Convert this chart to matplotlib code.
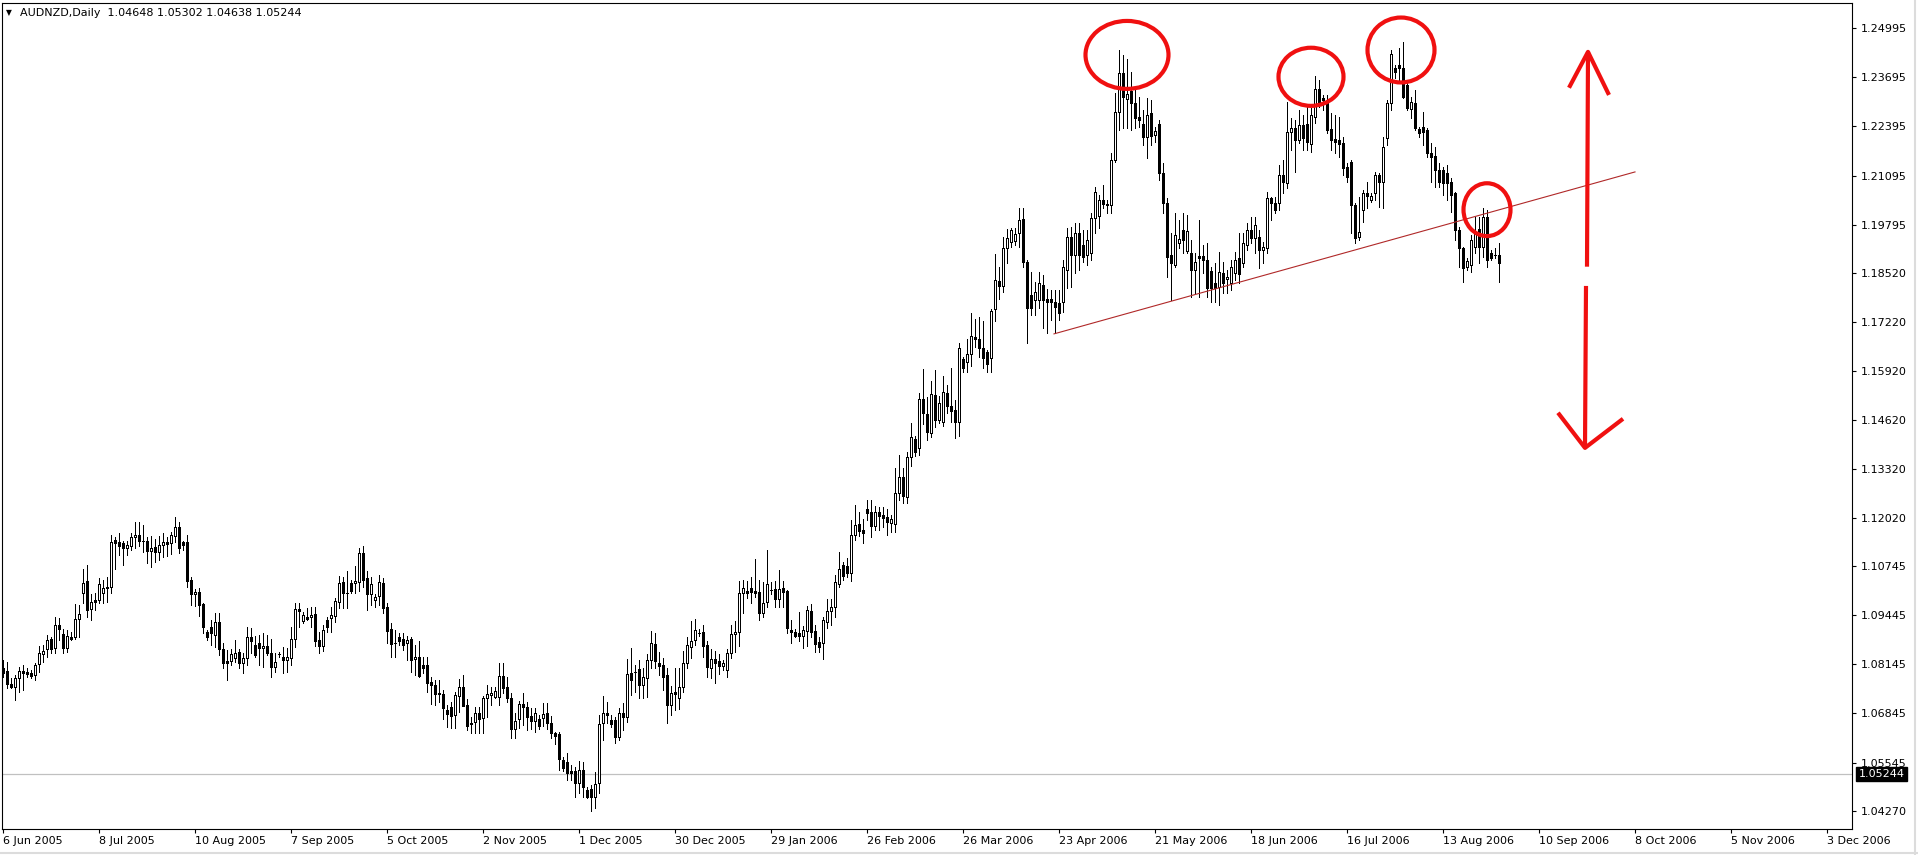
import numpy as np
import matplotlib
matplotlib.use("Agg")
import matplotlib.pyplot as plt
from matplotlib.patches import Ellipse
from matplotlib.transforms import blended_transform_factory

# AUDNZD daily candles, prices in 1/10000 units
opens = [
    10805, 10797, 10762, 10754, 10778, 10797, 10794, 10792, 10786, 10816,
    10842, 10855, 10882, 10858, 10919, 10895, 10858, 10887, 10887, 10935,
    11004, 11035, 10961, 10985, 10985, 11004, 11020, 11020, 11144, 11139,
    11136, 11123, 11128, 11152, 11157, 11141, 11141, 11115, 11125, 11112,
    11131, 11139, 11136, 11155, 11178, 11139, 11139, 11038, 11000, 11006,
    10974, 10900, 10914, 10892, 10927, 10855, 10823, 10823, 10832, 10847,
    10818, 10832, 10887, 10866, 10871, 10858, 10863, 10845, 10808, 10842,
    10834, 10826, 10832, 10882, 10961, 10930, 10940, 10940, 10948, 10879,
    10863, 10932, 10937, 10943, 10980, 11033, 11004, 11030, 11030, 11033,
    11110, 11043, 11000, 10985, 10996, 11030, 10966, 10908, 10871, 10887,
    10882, 10871, 10882, 10829, 10834, 10813, 10813, 10768, 10760, 10739,
    10736, 10694, 10701, 10680, 10731, 10754, 10707, 10659, 10662, 10686,
    10672, 10725, 10733, 10728, 10728, 10784, 10754, 10725, 10643, 10670,
    10709, 10701, 10678, 10664, 10670, 10672, 10686, 10659, 10633, 10630,
    10561, 10556, 10532, 10532, 10500, 10535, 10482, 10484, 10463, 10500,
    10659, 10686, 10667, 10667, 10622, 10686, 10675, 10792, 10794, 10802,
    10760, 10778, 10826, 10868, 10818, 10813, 10786, 10707, 10741, 10725,
    10754, 10818, 10861, 10879, 10898, 10900, 10866, 10805, 10829, 10823,
    10810, 10800, 10845, 10895, 10900, 11004, 11009, 11017, 11009, 11006,
    10951, 10980, 11012, 11014, 10988, 11017, 11009, 10906, 10900, 10898,
    10890, 10903, 10956, 10903, 10874, 10871, 10927, 10956, 10966, 11027,
    11078, 11075, 11057, 11157, 11186, 11171, 11226, 11218, 11181, 11218,
    11210, 11205, 11189, 11186, 11269, 11311, 11258, 11364, 11412, 11388,
    11518, 11478, 11428, 11528, 11462, 11457, 11534, 11499, 11488, 11457,
    11624, 11616, 11637, 11682, 11677, 11653, 11642, 11627, 11756, 11830,
    11817, 11918, 11934, 11937, 11958, 11995, 11880, 11793, 11780, 11780,
    11820, 11783, 11783, 11775, 11772, 11775, 11860, 11947, 11899, 11958,
    11926, 11899, 11905, 11997, 12003, 12045, 12032, 12032, 12151, 12278,
    12382, 12313, 12334, 12302, 12265, 12246, 12212, 12276, 12217, 12246,
    12117, 12037, 11899, 11873, 11931, 11966, 11910, 11905, 11860, 11896,
    11896, 11886, 11857, 11825, 11815, 11852, 11836, 11825, 11852, 11891,
    11878, 11926, 11966, 11945, 11947, 11913, 11918, 12050, 12037, 12037,
    12111, 12090, 12225, 12236, 12204, 12244, 12246, 12193, 12265, 12339,
    12315, 12302, 12233, 12207, 12204, 12196, 12133, 12146, 12032, 11947,
    12019, 12064, 12045, 12064, 12111, 12093, 12209, 12302, 12395, 12403,
    12395, 12350, 12286, 12302, 12233, 12238, 12231, 12170, 12162, 12125,
    12125, 12117, 12093, 12064, 11966, 11918, 11867, 11873, 11921, 11968,
    11921, 12000, 11905, 11899, 11899,
]
highs = [
    10826, 10821, 10778, 10786, 10808, 10813, 10805, 10800, 10818, 10863,
    10866, 10892, 10887, 10940, 10937, 10908, 10906, 10900, 10974, 10972,
    11067, 11078, 11000, 11004, 11043, 11038, 11046, 11157, 11152, 11163,
    11141, 11141, 11163, 11192, 11192, 11184, 11152, 11155, 11147, 11155,
    11163, 11152, 11165, 11205, 11192, 11141, 11157, 11046, 11014, 11017,
    10977, 10906, 10932, 10951, 10951, 10871, 10853, 10855, 10879, 10855,
    10845, 10914, 10911, 10890, 10892, 10898, 10892, 10882, 10845, 10847,
    10860, 10858, 10914, 10977, 10977, 10953, 10964, 10966, 10966, 10900,
    10919, 10940, 10966, 10990, 11049, 11046, 11062, 11038, 11075, 11123,
    11128, 11062, 11046, 11001, 11051, 11043, 10977, 10924, 10906, 10898,
    10898, 10890, 10887, 10866, 10876, 10834, 10834, 10781, 10773, 10773,
    10747, 10707, 10715, 10741, 10776, 10786, 10723, 10675, 10701, 10701,
    10731, 10760, 10754, 10754, 10818, 10818, 10781, 10739, 10686, 10717,
    10739, 10715, 10699, 10699, 10680, 10712, 10712, 10678, 10635, 10635,
    10569, 10580, 10548, 10543, 10559, 10556, 10490, 10495, 10529, 10680,
    10731, 10715, 10680, 10675, 10699, 10712, 10829, 10858, 10813, 10826,
    10805, 10842, 10903, 10898, 10847, 10832, 10805, 10757, 10805, 10805,
    10850, 10887, 10930, 10935, 10908, 10919, 10876, 10855, 10850, 10842,
    10826, 10855, 10919, 10930, 11035, 11038, 11035, 11046, 11094, 11038,
    11033, 11118, 11033, 11035, 11065, 11035, 11012, 10932, 10908, 10953,
    10916, 10969, 10974, 10919, 10887, 10940, 10988, 10988, 11051, 11112,
    11086, 11097, 11197, 11237, 11218, 11200, 11250, 11250, 11234, 11231,
    11231, 11226, 11210, 11335, 11369, 11335, 11377, 11454, 11420, 11534,
    11597, 11523, 11566, 11595, 11526, 11579, 11555, 11600, 11515, 11666,
    11629, 11677, 11746, 11730, 11735, 11724, 11648, 11756, 11902, 11867,
    11947, 11968, 11971, 11971, 12024, 12024, 11886, 11854, 11828, 11854,
    11846, 11809, 11806, 11806, 11806, 11886, 11971, 11974, 11984, 11984,
    11966, 11966, 12011, 12080, 12058, 12085, 12045, 12170, 12329, 12443,
    12429, 12419, 12384, 12337, 12318, 12284, 12315, 12310, 12238, 12257,
    12143, 12050, 11958, 12011, 11992, 12011, 12005, 11939, 11905, 11992,
    11926, 11931, 11867, 11878, 11907, 11880, 11860, 11886, 11907, 11958,
    11958, 11984, 12000, 12000, 11966, 11934, 12066, 12053, 12053, 12138,
    12151, 12305, 12262, 12257, 12284, 12270, 12294, 12289, 12374, 12363,
    12323, 12323, 12276, 12270, 12265, 12212, 12143, 12151, 12037, 12053,
    12072, 12093, 12064, 12119, 12117, 12212, 12310, 12443, 12403, 12448,
    12464, 12363, 12318, 12337, 12238, 12278, 12236, 12196, 12186, 12143,
    12133, 12138, 12103, 12066, 11974, 11921, 11891, 11952, 12000, 12000,
    12024, 12019, 11913, 11918, 11931,
]
lows = [
    10781, 10752, 10752, 10720, 10742, 10747, 10781, 10778, 10773, 10794,
    10821, 10834, 10845, 10845, 10879, 10845, 10847, 10879, 10882, 10887,
    10977, 10940, 10932, 10958, 10977, 10977, 10980, 11004, 11067, 11104,
    11078, 11104, 11118, 11123, 11128, 11112, 11083, 11073, 11086, 11091,
    11099, 11102, 11107, 11139, 11110, 11118, 11020, 10972, 10969, 10943,
    10898, 10879, 10866, 10860, 10839, 10805, 10773, 10813, 10821, 10805,
    10792, 10813, 10845, 10834, 10813, 10808, 10839, 10781, 10794, 10834,
    10792, 10794, 10813, 10860, 10914, 10924, 10932, 10914, 10863, 10845,
    10850, 10900, 10900, 10927, 10964, 10964, 10964, 11004, 11004, 11009,
    11020, 10958, 10972, 10966, 10972, 10951, 10871, 10834, 10834, 10866,
    10853, 10826, 10794, 10786, 10781, 10792, 10742, 10709, 10707, 10715,
    10670, 10648, 10646, 10646, 10688, 10703, 10640, 10633, 10633, 10633,
    10633, 10675, 10707, 10725, 10707, 10739, 10715, 10619, 10619, 10646,
    10654, 10640, 10643, 10635, 10643, 10651, 10643, 10619, 10604, 10534,
    10532, 10508, 10508, 10463, 10474, 10463, 10461, 10426, 10434, 10474,
    10614, 10659, 10648, 10606, 10614, 10640, 10662, 10733, 10742, 10725,
    10725, 10728, 10805, 10805, 10786, 10747, 10659, 10680, 10694, 10696,
    10741, 10805, 10832, 10866, 10890, 10834, 10781, 10778, 10765, 10789,
    10800, 10781, 10832, 10847, 10863, 10951, 10990, 10977, 10993, 10932,
    10940, 10966, 11000, 10966, 10966, 10966, 10898, 10871, 10887, 10876,
    10858, 10863, 10887, 10847, 10847, 10829, 10911, 10919, 10940, 11020,
    11038, 11046, 11035, 11144, 11155, 11136, 11197, 11152, 11171, 11171,
    11178, 11157, 11165, 11165, 11250, 11242, 11242, 11340, 11366, 11369,
    11451, 11409, 11417, 11443, 11454, 11446, 11481, 11457, 11414, 11420,
    11589, 11589, 11605, 11655, 11629, 11600, 11589, 11589, 11724, 11783,
    11801, 11878, 11921, 11926, 11921, 11867, 11666, 11740, 11740, 11759,
    11706, 11693, 11727, 11693, 11727, 11748, 11812, 11815, 11852, 11860,
    11880, 11873, 11886, 11958, 11971, 12024, 12011, 12011, 12146, 12231,
    12236, 12236, 12231, 12236, 12239, 12191, 12156, 12191, 12199, 12098,
    12011, 11841, 11780, 11867, 11918, 11905, 11905, 11788, 11798, 11788,
    11852, 11788, 11775, 11775, 11767, 11798, 11798, 11806, 11833, 11825,
    11867, 11913, 11931, 11905, 11865, 11878, 11905, 11992, 12011, 12019,
    12064, 12077, 12178, 12119, 12196, 12178, 12178, 12172, 12249, 12291,
    12284, 12223, 12178, 12170, 12159, 12111, 12093, 11958, 11931, 11939,
    11987, 12024, 12040, 12045, 12027, 12024, 12191, 12284, 12368, 12358,
    12315, 12284, 12262, 12231, 12212, 12191, 12159, 12093, 12080, 12080,
    12058, 12045, 12013, 11939, 11867, 11828, 11860, 11854, 11905, 11878,
    11894, 11867, 11886, 11891, 11828,
]
closes = [
    10792, 10762, 10754, 10778, 10797, 10792, 10789, 10784, 10813, 10845,
    10850, 10879, 10855, 10919, 10908, 10858, 10890, 10882, 10935, 10948,
    11030, 10958, 10980, 10980, 11027, 11017, 11017, 11139, 11136, 11128,
    11123, 11131, 11152, 11157, 11141, 11142, 11115, 11123, 11112, 11131,
    11139, 11133, 11157, 11178, 11123, 11131, 11035, 11001, 11006, 10972,
    10914, 10887, 10898, 10927, 10855, 10818, 10818, 10842, 10845, 10818,
    10832, 10887, 10876, 10839, 10858, 10863, 10845, 10808, 10821, 10842,
    10826, 10834, 10882, 10961, 10956, 10946, 10935, 10946, 10876, 10863,
    10906, 10914, 10945, 10982, 11030, 11004, 11003, 11009, 11035, 11110,
    11038, 11000, 11027, 10993, 11033, 10964, 10903, 10868, 10870, 10876,
    10866, 10879, 10826, 10834, 10784, 10805, 10765, 10760, 10736, 10736,
    10699, 10683, 10678, 10733, 10754, 10704, 10651, 10656, 10686, 10670,
    10725, 10736, 10739, 10744, 10784, 10752, 10725, 10643, 10664, 10709,
    10701, 10675, 10664, 10686, 10651, 10683, 10659, 10633, 10625, 10564,
    10540, 10527, 10527, 10500, 10535, 10490, 10463, 10463, 10498, 10656,
    10686, 10680, 10656, 10622, 10686, 10675, 10789, 10773, 10795, 10760,
    10781, 10826, 10871, 10823, 10810, 10781, 10707, 10739, 10736, 10754,
    10818, 10866, 10876, 10906, 10897, 10863, 10808, 10829, 10818, 10810,
    10818, 10845, 10895, 10900, 11004, 11017, 11004, 11006, 11004, 10951,
    10977, 11027, 11011, 10988, 11014, 11006, 10911, 10900, 10890, 10890,
    10906, 10958, 10900, 10868, 10861, 10932, 10956, 10966, 11033, 11067,
    11049, 11057, 11157, 11184, 11168, 11163, 11216, 11181, 11218, 11208,
    11202, 11192, 11200, 11269, 11311, 11261, 11364, 11417, 11377, 11518,
    11481, 11430, 11531, 11462, 11507, 11536, 11499, 11486, 11457, 11653,
    11600, 11637, 11685, 11677, 11653, 11627, 11611, 11751, 11833, 11817,
    11918, 11945, 11966, 11955, 11992, 11880, 11759, 11759, 11801, 11825,
    11780, 11775, 11775, 11761, 11746, 11867, 11947, 11899, 11958, 11899,
    11894, 11939, 11997, 12066, 12045, 12034, 12034, 12151, 12278, 12382,
    12318, 12326, 12302, 12262, 12257, 12212, 12270, 12215, 12228, 12117,
    12037, 11894, 11878, 11952, 11942, 11939, 11963, 11860, 11880, 11891,
    11886, 11812, 11812, 11812, 11854, 11825, 11841, 11867, 11886, 11849,
    11931, 11966, 11945, 11979, 11913, 11921, 12050, 12037, 12019, 12111,
    12093, 12225, 12236, 12204, 12244, 12209, 12199, 12270, 12339, 12305,
    12310, 12231, 12204, 12199, 12193, 12130, 12106, 12032, 11945, 11960,
    12064, 12056, 12056, 12111, 12093, 12185, 12302, 12432, 12384, 12395,
    12318, 12289, 12305, 12236, 12223, 12225, 12170, 12159, 12125, 12093,
    12090, 12090, 12058, 11966, 11918, 11865, 11883, 11939, 11958, 11921,
    12000, 11886, 11891, 11898, 11878,
]

# time axis: one label every 24 bars
date_labels = ["6 Jun 2005", "8 Jul 2005", "10 Aug 2005", "7 Sep 2005", "5 Oct 2005",
               "2 Nov 2005", "1 Dec 2005", "30 Dec 2005", "29 Jan 2006", "26 Feb 2006",
               "26 Mar 2006", "23 Apr 2006", "21 May 2006", "18 Jun 2006", "16 Jul 2006",
               "13 Aug 2006", "10 Sep 2006", "8 Oct 2006", "5 Nov 2006", "3 Dec 2006"]
bars_per_label = 24

price_ticks = [1.24995, 1.23695, 1.22395, 1.21095, 1.19795, 1.18520, 1.17220, 1.15920,
               1.14620, 1.13320, 1.12020, 1.10745, 1.09445, 1.08145, 1.06845, 1.05545, 1.04270]
bid = 1.05244
header = "AUDNZD,Daily  1.04648 1.05302 1.04638 1.05244"

# drawn objects: trend line, circles (bar, price, w in bars, h in price), arrows
trend_x = [262.75, 408.0]
trend_y = [1.1690, 1.2119]
circles = [(281.0, 1.2429, 20.75, 0.0180),
           (327.0, 1.2371, 16.25, 0.0154),
           (349.5, 1.2442, 16.75, 0.0172),
           (371.0, 1.2019, 11.75, 0.0140)]
arrow_up_shaft = ([396.25, 396.0], [1.2437, 1.1868])
arrow_up_head = ([391.5, 396.25, 401.5], [1.2342, 1.2437, 1.2323])
arrow_dn_shaft = ([395.75, 395.5], [1.1817, 1.1388])
arrow_dn_head = ([388.75, 395.5, 405.0], [1.1481, 1.1388, 1.1465])

o = np.array(opens) / 1e4
h = np.array(highs) / 1e4
l = np.array(lows) / 1e4
c = np.array(closes) / 1e4
x = np.arange(len(c))

W, H = 1918, 855
fig = plt.figure(figsize=(W / 100, H / 100), dpi=100)
ax = fig.add_axes([2 / W, 26 / H, 1850 / W, 826 / H])

ax.axhline(bid, color="#c0c0c0", lw=0.9, zorder=1)

# candles
ax.vlines(x, l, h, color="black", lw=0.6, antialiased=False, zorder=2)
up = c >= o
ax.bar(x, np.abs(c - o), bottom=np.minimum(o, c), width=0.5,
       color=np.where(up, "white", "black"), edgecolor="black", linewidth=0.55,
       antialiased=False, zorder=3)

ax.plot(trend_x, trend_y, color="#b02828", lw=0.8, zorder=4)

red = "#f01010"
for cx, cy, ew, eh in circles:
    ax.add_patch(Ellipse((cx, cy), ew, eh, fill=False, edgecolor=red, lw=3, zorder=5))
for xs, ys in [arrow_up_shaft, arrow_up_head, arrow_dn_shaft, arrow_dn_head]:
    ax.plot(xs, ys, color=red, lw=3, solid_capstyle="butt", zorder=5)

ax.set_xlim(-0.25, 462.25)
ax.set_ylim(1.03784, 1.25665)

for s in ax.spines.values():
    s.set_linewidth(0.8)
    s.set_color("black")

ax.yaxis.tick_right()
ax.set_yticks(price_ticks)
ax.set_yticklabels([f"{v:.5f}" for v in price_ticks])
ax.tick_params(axis="y", direction="out", length=3, width=0.8, pad=3, labelsize=8)

ax.set_xticks([k * bars_per_label for k in range(len(date_labels))])
ax.set_xticklabels(date_labels)
for t in ax.get_xticklabels():
    t.set_horizontalalignment("left")
ax.tick_params(axis="x", direction="out", length=3, width=0.8, pad=2, labelsize=8)

# bid price box on the price scale
tr = blended_transform_factory(ax.transAxes, ax.transData)
ax.text(1.0035, bid, f"{bid:.5f}", transform=tr, color="white", fontsize=8,
        va="center", ha="left", clip_on=False, zorder=6,
        bbox=dict(boxstyle="square,pad=0.2", fc="black", ec="black"))

fig.text(6 / W, 1 - 13 / H, "\u25bc", fontsize=5.5, va="center", ha="left")
fig.text(20 / W, 1 - 13 / H, header, fontsize=8, va="center", ha="left")

# window frame
fig.add_artist(plt.Line2D([1915 / W, 1915 / W], [0, 1], color="#dcdcdc", lw=1.5))
fig.add_artist(plt.Line2D([0, 1], [2 / H, 2 / H], color="#dcdcdc", lw=1.5))

fig.savefig("out.png", dpi=100)
